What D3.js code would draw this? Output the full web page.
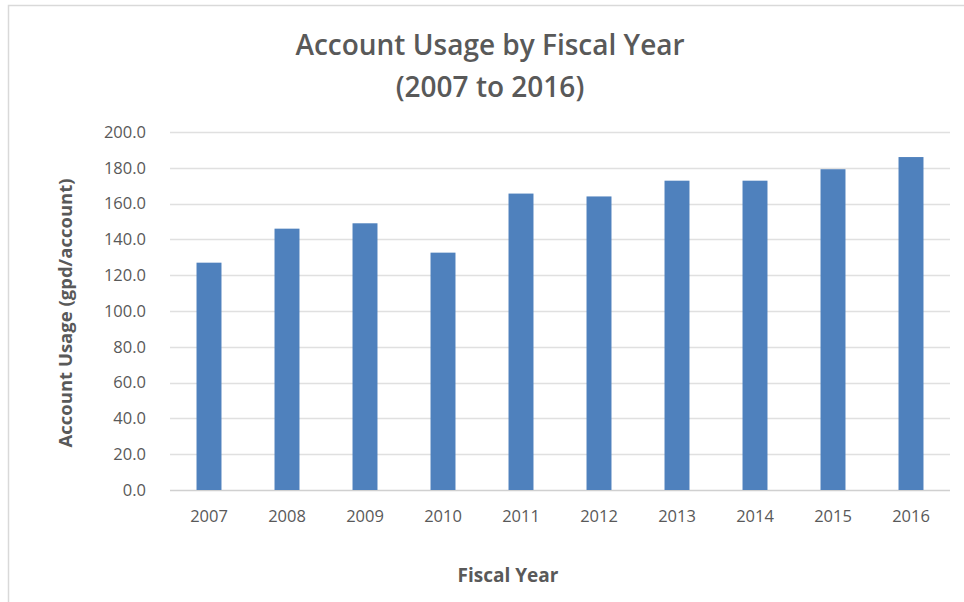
<!DOCTYPE html>
<meta charset="utf-8">
<script src="https://d3js.org/d3.v7.min.js"></script>
<style>
    body { margin: 0; background: #fff; }
    text { font-family: "Open Sans", sans-serif; fill: #595959; }
</style>
<div id="chart"></div>
<script>
    // data
    var years = ["2007", "2008", "2009", "2010", "2011", "2012", "2013", "2014", "2015", "2016"];
    var usage = [127.0, 146.0, 149.0, 132.6, 165.6, 164.0, 172.8, 172.8, 179.2, 186.0];
    var yTicks = [0, 20, 40, 60, 80, 100, 120, 140, 160, 180, 200];
    var titleLines = ["Account Usage by Fiscal Year", "(2007 to 2016)"];

    var W = 964, H = 602;
    var margin = {top: 132, right: 14, bottom: 112, left: 170};
    var width = W - margin.left - margin.right,
        height = H - margin.top - margin.bottom;

    var svg = d3.select("#chart").append("svg")
        .attr("width", W)
        .attr("height", H);

    // chart frame (runs off the right and bottom edges)
    svg.append("rect")
        .attr("x", 8.5).attr("y", 5.5)
        .attr("width", 1000).attr("height", 700)
        .attr("fill", "#fff")
        .attr("stroke", "#d9d9d9")
        .attr("stroke-width", 1.5);

    var g = svg.append("g")
        .attr("transform", "translate(" + margin.left + "," + margin.top + ")");

    var x = d3.scaleBand()
        .domain(years)
        .range([0, width])
        .paddingInner(0.68)
        .paddingOuter(0.34);

    var y = d3.scaleLinear()
        .domain([0, 200])
        .range([height, 0]);

    // gridlines
    g.append("g")
        .selectAll("line")
        .data(yTicks)
        .enter()
        .append("line")
        .attr("x1", 0).attr("x2", width)
        .attr("y1", function (d) { return Math.round(y(d)) + 0.5; })
        .attr("y2", function (d) { return Math.round(y(d)) + 0.5; })
        .attr("stroke", function (d) { return d === 0 ? "#d0d0d0" : "#e0e0e0"; })
        .attr("stroke-width", 1.3);

    // y axis labels
    var yAxis = g.append("g")
        .call(d3.axisLeft(y).tickValues(yTicks).tickFormat(d3.format(".1f")).tickSize(0).tickPadding(24));
    yAxis.select(".domain").remove();
    yAxis.selectAll("text")
        .style("font-size", "16.5px")
        .attr("fill", "#595959");

    // bars
    g.append("g")
        .selectAll("rect")
        .data(usage)
        .enter()
        .append("rect")
        .attr("x", function (d, i) { return x(years[i]); })
        .attr("y", function (d) { return y(d); })
        .attr("width", x.bandwidth())
        .attr("height", function (d) { return height - y(d); })
        .attr("fill", "#4f81bd");

    // x axis labels
    var xAxis = g.append("g")
        .attr("transform", "translate(0," + height + ")")
        .call(d3.axisBottom(x).tickSize(0).tickPadding(20));
    xAxis.select(".domain").remove();
    xAxis.selectAll("text")
        .style("font-size", "16.5px")
        .attr("fill", "#595959");

    // axis titles
    svg.append("text")
        .attr("x", 508).attr("y", 582)
        .attr("text-anchor", "middle")
        .style("font-size", "19px")
        .style("font-weight", "bold")
        .text("Fiscal Year");

    svg.append("text")
        .attr("transform", "translate(72,313) rotate(-90)")
        .attr("text-anchor", "middle")
        .style("font-size", "18.5px")
        .style("font-weight", "bold")
        .text("Account Usage (gpd/account)");

    // chart title
    svg.append("g")
        .selectAll("text")
        .data(titleLines)
        .enter()
        .append("text")
        .attr("x", 490)
        .attr("y", function (d, i) { return 55 + i * 42; })
        .attr("text-anchor", "middle")
        .style("font-size", "28px")
        .style("font-weight", "600")
        .text(function (d) { return d; });
</script>
